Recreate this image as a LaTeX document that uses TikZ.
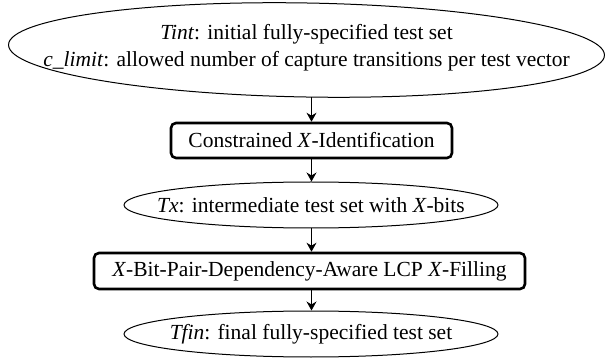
\documentclass[tikz,border=0pt]{standalone}
\usepackage{fontspec}
\setmainfont{Liberation Serif}
\usetikzlibrary{shapes.geometric,arrows.meta}
\begin{document}
\begin{tikzpicture}[x=1pt,y=-1pt,
  ell/.style={draw,ellipse,line width=1pt,inner sep=0pt},
  txt/.style={inner sep=0pt,font=\fontsize{21.5}{27}\selectfont,align=center},
  procbox/.style={draw,rounded corners=5pt,line width=2.6pt,inner sep=0pt,font=\fontsize{21.5}{27}\selectfont},
  flow/.style={line width=1pt,-{Stealth[length=9pt,width=10pt,inset=3pt]}}]
\useasboundingbox (0,0) rectangle (608,358);
\node[ell,minimum width=596pt,minimum height=94pt,rotate=-1] (tint) at (306.5,50) {};
\node[txt] (tinttxt) at (306.5,48)
  {\textit{Tint}: initial fully-specified test set\\\textit{c\_limit}: allowed number of capture transitions per test vector};
\node[procbox,minimum width=281pt,minimum height=35pt] (cxi) at (311.5,140.5)
  {Constrained \textit{X}-Identification};
\node[ell,minimum width=374pt,minimum height=46pt] (tx) at (311,205) {};
\node[txt] (txtxt) at (311,205) {\textit{Tx}: intermediate test set with \textit{X}-bits};
\node[procbox,minimum width=431pt,minimum height=36pt] (fill) at (309.5,271)
  {\textit{X}-Bit-Pair-Dependency-Aware LCP \textit{X}-Filling};
\node[ell,minimum width=374pt,minimum height=46pt] (tfin) at (311,334) {};
\node[txt] (tfintxt) at (311,334) {\textit{Tfin}: final fully-specified test set};
\draw[flow] (tint.south -| cxi.north) -- (cxi.north);
\draw[flow] (cxi.south) -- (tx.north -| cxi.south);
\draw[flow] (tx.south -| cxi.south) -- (fill.north -| cxi.south);
\draw[flow] (fill.south -| cxi.south) -- (tfin.north -| cxi.south);
\end{tikzpicture}
\end{document}
